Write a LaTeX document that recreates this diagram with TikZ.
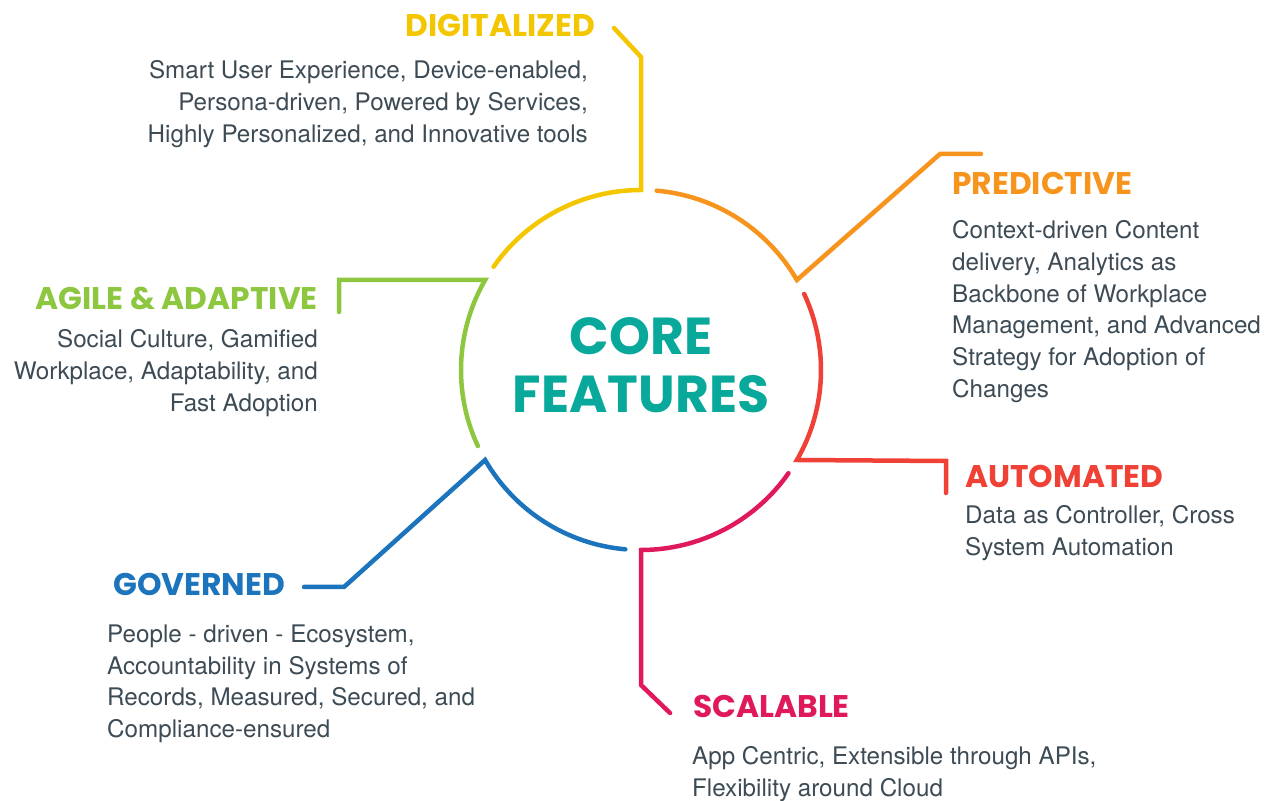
\documentclass[tikz,border=0pt]{standalone}
\usepackage{fontspec}
\setmainfont{TeX Gyre Heros}
\newfontfamily\headfont{Poppins}
\usetikzlibrary{positioning}
\usepackage{xcolor}
\definecolor{digyellow}{HTML}{F4C600}
\definecolor{predorange}{HTML}{F7941D}
\definecolor{autored}{HTML}{EF4136}
\definecolor{scalemagenta}{HTML}{E01A5A}
\definecolor{govblue}{HTML}{1C75BC}
\definecolor{agilegreen}{HTML}{8DC63F}
\definecolor{coreteal}{HTML}{08A89A}
\definecolor{bodygray}{HTML}{3D4B55}

\begin{document}
\begin{tikzpicture}[x=1pt, y=1pt,
    ring/.style={line width=4.5pt, line cap=round, line join=miter},
    headline/.style={font=\headfont\bfseries\fontsize{31.3}{31.3}\selectfont, inner sep=0pt},
    bodytext/.style={font=\fontsize{24.2}{31.7}\selectfont, text=bodygray, inner sep=0pt}]
    \useasboundingbox (0,0) rectangle (1284,800);

    % central ring and title
    \node[circle, minimum size=360pt, inner sep=0pt, outer sep=0pt] (core) at (641,430) {};
    \node[align=center, text=coreteal, inner sep=0pt,
        font=\headfont\bfseries\fontsize{52}{58}\selectfont] (coretitle) at (641,434.5) {CORE\\FEATURES};

    % ring segments with their leader lines
    \coordinate (digend) at (614,772);
    \coordinate (digbend) at (641,743);
    \draw[ring, digyellow] (digend) -- (digbend) -- (core.90) arc (90:145:180);

    \coordinate (predbend) at (940,646);
    \coordinate (predend) at (981,646);
    \draw[ring, predorange] (predend) -- (predbend) -- (core.30) arc (30:85:180);

    \coordinate (autobend) at (946,339);
    \coordinate (autoend) at (946,307);
    \draw[ring, autored] (autoend) -- (autobend) -- (core.-30) arc (-30:25:180);

    \coordinate (scalebend) at (641,115);
    \coordinate (scaleend) at (670,87);
    \draw[ring, scalemagenta] (scaleend) -- (scalebend) -- (core.-90) arc (-90:-35:180);

    \coordinate (govbend) at (344,213);
    \coordinate (govend) at (304,213);
    \draw[ring, govblue] (govend) -- (govbend) -- (core.-150) arc (-150:-95:180);

    \coordinate (agilebend) at (339,520);
    \coordinate (agileend) at (339,488);
    \draw[ring, agilegreen] (agileend) -- (agilebend) -- (core.150) arc (150:205:180);

    % headings
    \node[headline, text=digyellow, anchor=base east] (digtitle) at (595,763) {DIGITALIZED};
    \node[headline, text=predorange, anchor=base west] (predtitle) at (952,605) {PREDICTIVE};
    \node[headline, text=autored, anchor=base west] (autotitle) at (965,312) {AUTOMATED};
    \node[headline, text=scalemagenta, anchor=base west] (scaletitle) at (693,82) {SCALABLE};
    \node[headline, text=govblue, anchor=base west] (govtitle) at (113,204) {GOVERNED};
    \node[headline, text=agilegreen, anchor=base east] (agiletitle) at (318,490) {AGILE \& ADAPTIVE};

    % descriptions
    \node[bodytext, align=right, anchor=north east] (digtext) at (588,739.5)
        {Smart User Experience, Device-enabled,\\Persona-driven, Powered by Services,\\Highly Personalized, and Innovative tools};
    \node[bodytext, align=left, anchor=north west] (predtext) at (952,579.5)
        {Context-driven Content\\delivery, Analytics as\\Backbone of Workplace\\Management, and Advanced\\Strategy for Adoption of\\Changes};
    \node[bodytext, align=left, anchor=north west] (autotext) at (965,294.5)
        {Data as Controller, Cross\\System Automation};
    \node[bodytext, align=left, anchor=north west] (scaletext) at (692,53.5)
        {App Centric, Extensible through APIs,\\Flexibility around Cloud};
    \node[bodytext, align=left, anchor=north west] (govtext) at (107,175.5)
        {People - driven - Ecosystem,\\Accountability in Systems of\\Records, Measured, Secured, and\\Compliance-ensured};
    \node[bodytext, align=right, anchor=north east] (agiletext) at (318,470.5)
        {Social Culture, Gamified\\Workplace, Adaptability, and\\Fast Adoption};
\end{tikzpicture}
\end{document}
